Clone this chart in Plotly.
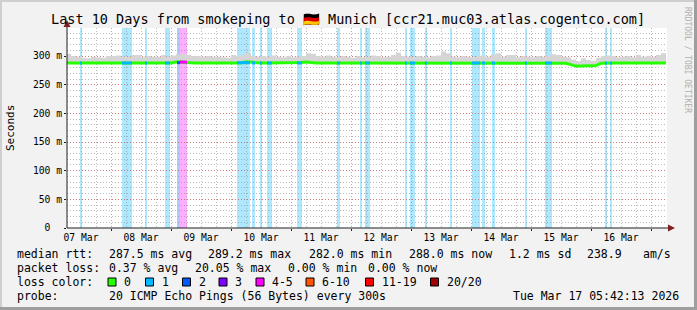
import plotly.graph_objects as go
import pandas as pd

# ---------------- data ----------------
sample_times = pd.date_range("2026-03-07 06:00", "2026-03-17 06:00", freq="2h")

median_ms = [288]*22 + [289.5, 290, 289] + [288]*11 + [290, 289] + [288]*9 + \
    [289, 289.5, 288.5] + [288]*39 + [288.5, 288.5] + [288]*6 + [288.5, 288.5] + [288] + \
    [287.5, 285, 282.5, 282.5, 282.5, 282.5, 283.5, 287.5] + [288]*9 + [288.5, 288.5] + [288, 288]

smoke_hi_ms = [304, 300, 299, 297, 296, 299, 298, 297, 300, 300,
               301, 299, 299, 302, 302, 299, 300, 299, 299, 302,
               299, 301, 303, 304, 302, 300, 300, 299, 300, 299,
               299, 298, 297, 302, 300, 303, 306, 300, 299, 300,
               299, 301, 299, 298, 300, 298, 299, 300, 305, 304,
               300, 299, 301, 299, 298, 300, 299, 297, 300, 298,
               299, 301, 300, 298, 299, 302, 306, 300, 299, 298,
               300, 299, 298, 300, 301, 308, 305, 299, 298, 300,
               299, 298, 300, 301, 299, 303, 305, 299, 302, 302,
               298, 300, 299, 298, 300, 299, 301, 303, 302, 299,
               298, 294, 291, 296, 293, 292, 297, 300, 301, 300,
               298, 299, 300, 298, 302, 299, 300, 299, 302, 305, 300]

loss_start = ["2026-03-07 11:36", "2026-03-08 04:24", "2026-03-08 13:36", "2026-03-08 21:36",
              "2026-03-09 02:24", "2026-03-09 03:36", "2026-03-10 02:24", "2026-03-10 08:24",
              "2026-03-10 11:36", "2026-03-10 14:24", "2026-03-11 02:24", "2026-03-11 18:24",
              "2026-03-12 03:36", "2026-03-12 05:36", "2026-03-12 21:36", "2026-03-12 23:36",
              "2026-03-13 05:36", "2026-03-13 15:36", "2026-03-14 00:24", "2026-03-14 04:24",
              "2026-03-14 08:24", "2026-03-14 21:36", "2026-03-15 05:36", "2026-03-16 05:36",
              "2026-03-16 07:36"]
loss_end = ["2026-03-07 12:24", "2026-03-08 08:24", "2026-03-08 14:24", "2026-03-08 23:36",
            "2026-03-09 03:36", "2026-03-09 06:24", "2026-03-10 07:36", "2026-03-10 09:36",
            "2026-03-10 12:24", "2026-03-10 16:24", "2026-03-11 04:24", "2026-03-11 19:36",
            "2026-03-12 04:24", "2026-03-12 07:36", "2026-03-12 22:24", "2026-03-13 01:36",
            "2026-03-13 06:24", "2026-03-13 16:24", "2026-03-14 03:36", "2026-03-14 05:36",
            "2026-03-14 09:36", "2026-03-14 22:24", "2026-03-15 08:24", "2026-03-16 06:24",
            "2026-03-16 08:24"]
loss_count = [1, 1, 1, 1, 2, 4, 1, 1, 1, 1, 1, 1, 1, 1, 1, 1, 1, 1, 1, 1, 1, 1, 1, 1, 1]
loss_median = [288, 288, 288, 288, 288.5, 289.5, 288.5, 288, 288, 288, 288, 288,
               288, 288, 288, 288, 288, 288, 288, 288, 288, 288, 288, 288, 288]

loss_labels = ["0", "1", "2", "3", "4-5", "6-10", "11-19", "20/20"]
loss_colors = ["#26ff00", "#00b8ff", "#0059ff", "#7e00ff", "#ff00ff", "#ff5500", "#ff0000", "#a10000"]

y_tickvals = [0, 50, 100, 150, 200, 250, 300]
y_ticktext = ["0\u00a0\u00a0", "50 m", "100 m", "150 m", "200 m", "250 m", "300 m"]

stats_rows = [
    [("median rtt:", 16), ("287.5 ms avg", 107.5), ("289.2 ms max", 207), ("282.0 ms min", 307.5),
     ("288.0 ms now", 407.5), ("1.2 ms sd", 507.5), ("238.9", 586), ("am/s", 641.5)],
    [("packet loss:", 16), ("0.37 % avg", 107.5), ("20.05 % max", 194), ("0.00 % min", 287),
     ("0.00 % now", 366.5)],
    [("probe:", 16), ("20 ICMP Echo Pings (56 Bytes) every 300s", 107.5)],
]
stats_y = [254, 268, 296]
legend_square_x = [108, 145.5, 182.5, 219, 256, 306, 365.5, 430.5]
date_text = "Tue Mar 17 05:42:13 2026"

# ---------------- geometry ----------------
PL, PR, PT, PB = 67, 667, 28, 228
W, H = 697, 310
def px(X):
    return (X - PL) / (PR - PL)
def py(Y):
    return (PB - Y) / (PB - PT)

MONO = "DejaVu Sans Mono"

def rgba(hexc, a):
    hexc = hexc.lstrip("#")
    r, g, b = int(hexc[0:2], 16), int(hexc[2:4], 16), int(hexc[4:6], 16)
    return f"rgba({r},{g},{b},{a})"

def color_for_loss(n):
    if n <= 0: return loss_colors[0]
    if n == 1: return loss_colors[1]
    if n == 2: return loss_colors[2]
    if n == 3: return loss_colors[3]
    if n <= 5: return loss_colors[4]
    if n <= 10: return loss_colors[5]
    if n <= 19: return loss_colors[6]
    return loss_colors[7]

fig = go.Figure()

# smoke
fig.add_trace(go.Scatter(x=sample_times, y=median_ms, mode="lines", line=dict(width=0, shape="hv"),
                         hoverinfo="skip", showlegend=False))
fig.add_trace(go.Scatter(x=sample_times, y=smoke_hi_ms, mode="lines", line=dict(width=0, shape="hv"),
                         fill="tonexty", fillcolor="#d5d5d5", hoverinfo="skip", showlegend=False))
# median line (no loss)
fig.add_trace(go.Scatter(x=sample_times, y=median_ms, mode="lines",
                         line=dict(width=3, color=loss_colors[0]), showlegend=False))
# loss-colored median segments
for s, e, n, m in zip(loss_start, loss_end, loss_count, loss_median):
    fig.add_trace(go.Scatter(x=[s, e], y=[m, m], mode="lines",
                             line=dict(width=3, color=color_for_loss(n)), showlegend=False))

shapes = []
# loss bands
for s, e, n in zip(loss_start, loss_end, loss_count):
    shapes.append(dict(type="rect", xref="x", yref="paper", x0=s, x1=e, y0=0, y1=1,
                       fillcolor=rgba(color_for_loss(n), 0.32), line=dict(width=0), layer="below"))

# frame (shade A / shade B)
shapes += [
    dict(type="rect", xref="paper", yref="paper", x0=px(0), x1=px(W), y0=py(0), y1=py(2),
         fillcolor="#cfcfcf", line=dict(width=0), layer="above"),
    dict(type="rect", xref="paper", yref="paper", x0=px(0), x1=px(2), y0=py(0), y1=py(H),
         fillcolor="#cfcfcf", line=dict(width=0), layer="above"),
    dict(type="rect", xref="paper", yref="paper", x0=px(W - 3), x1=px(W), y0=py(0), y1=py(H),
         fillcolor="#9e9e9e", line=dict(width=0), layer="above"),
    dict(type="rect", xref="paper", yref="paper", x0=px(0), x1=px(W), y0=py(H - 3), y1=py(H),
         fillcolor="#9e9e9e", line=dict(width=0), layer="above"),
]
# axis extensions and arrows
shapes += [
    dict(type="line", xref="paper", yref="paper", x0=0, x1=0, y0=0, y1=py(24),
         line=dict(color="#1f1f1f", width=1), layer="above"),
    dict(type="line", xref="paper", yref="paper", x0=0, x1=px(670), y0=0, y1=0,
         line=dict(color="#1f1f1f", width=1), layer="above"),
    dict(type="path", xref="paper", yref="paper",
         path=f"M {px(63.5)} {py(27)} L {px(70.5)} {py(27)} L {px(67)} {py(20)} Z",
         fillcolor="#801f1f", line=dict(width=0), layer="above"),
    dict(type="path", xref="paper", yref="paper",
         path=f"M {px(668)} {py(224.5)} L {px(668)} {py(231.5)} L {px(675)} {py(228)} Z",
         fillcolor="#801f1f", line=dict(width=0), layer="above"),
]
# legend squares
for sx, c in zip(legend_square_x, loss_colors):
    shapes.append(dict(type="rect", xref="paper", yref="paper", x0=px(sx), x1=px(sx + 8),
                       y0=py(286), y1=py(278), fillcolor=c, line=dict(color="#000000", width=1),
                       layer="above"))

annotations = []
annotations.append(dict(text="Last 10 Days from smokeping to 🇩🇪 Munich [ccr21.muc03.atlas.cogentco.com]",
                        x=px(347.5), y=py(19), xref="paper", yref="paper", showarrow=False,
                        xanchor="center", yanchor="middle", font=dict(family=MONO, size=13.5, color="#000")))
annotations.append(dict(text="Seconds", x=px(10), y=py(128), xref="paper", yref="paper", showarrow=False,
                        textangle=-90, xanchor="center", yanchor="middle",
                        font=dict(family=MONO, size=11, color="#000")))
annotations.append(dict(text="RRDTOOL / TOBI OETIKER", x=px(688), y=py(60), xref="paper", yref="paper",
                        showarrow=False, textangle=90, xanchor="center", yanchor="middle",
                        font=dict(family=MONO, size=8, color="#b0b0b0")))
for row, yy in zip(stats_rows, stats_y):
    for txt, xx in row:
        annotations.append(dict(text=txt, x=px(xx - 1), y=py(yy), xref="paper", yref="paper",
                                showarrow=False, xanchor="left", yanchor="middle",
                                font=dict(family=MONO, size=11.5, color="#000")))
annotations.append(dict(text="loss color:", x=px(15), y=py(282), xref="paper", yref="paper",
                        showarrow=False, xanchor="left", yanchor="middle",
                        font=dict(family=MONO, size=11.5, color="#000")))
for sx, lab in zip(legend_square_x, loss_labels):
    annotations.append(dict(text=lab, x=px(sx + 14), y=py(282), xref="paper", yref="paper",
                            showarrow=False, xanchor="left", yanchor="middle",
                            font=dict(family=MONO, size=11.5, color="#000")))
annotations.append(dict(text=date_text, x=px(681), y=py(296), xref="paper", yref="paper",
                        showarrow=False, xanchor="right", yanchor="middle",
                        font=dict(family=MONO, size=11.5, color="#000")))

fig.update_layout(
    width=W, height=H,
    margin=dict(l=PL, r=W - PR, t=PT, b=H - PB, pad=0),
    paper_bgcolor="#f2f2f2", plot_bgcolor="#ffffff",
    showlegend=False,
    shapes=shapes, annotations=annotations,
    xaxis=dict(
        type="date", range=["2026-03-07 06:24", "2026-03-17 06:24"],
        tick0="2026-03-08", dtick=86400000, tickformat="%d %b", ticklabelmode="period",
        showgrid=True, gridcolor="rgba(222,79,79,0.6)", griddash="1px,2px", gridwidth=1,
        minor=dict(dtick=6 * 3600 * 1000, showgrid=True, gridcolor="rgba(143,143,143,0.6)",
                   griddash="1px,2px", gridwidth=1),
        ticks="outside", ticklen=2, tickcolor="#1f1f1f", ticklabelstandoff=-2,
        showline=False, zeroline=False,
        tickfont=dict(family=MONO, size=9.7, color="#000"),
    ),
    yaxis=dict(
        range=[0, 349], tickvals=y_tickvals, ticktext=y_ticktext,
        showgrid=True, gridcolor="rgba(222,79,79,0.6)", griddash="1px,2px", gridwidth=1,
        minor=dict(dtick=10, showgrid=True, gridcolor="rgba(143,143,143,0.6)",
                   griddash="1px,2px", gridwidth=1),
        ticks="outside", ticklen=2, tickcolor="#1f1f1f",
        showline=False, zeroline=False,
        tickfont=dict(family=MONO, size=9.7, color="#000"),
    ),
)

fig.write_html("out.html")
